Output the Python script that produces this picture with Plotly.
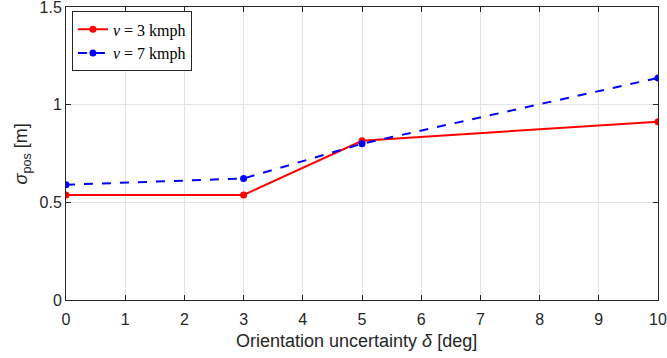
import plotly.graph_objects as go

delta = [0, 3, 5, 10]
sigma_3kmph = [0.537, 0.538, 0.815, 0.913]
sigma_7kmph = [0.590, 0.622, 0.800, 1.137]
x_ticks = list(range(0, 11))
y_ticks = [0, 0.5, 1, 1.5]
y_tick_labels = ["0", "0.5", "1", "1.5"]

SANS = "Liberation Sans, Arial, sans-serif"
INK = "#262626"

fig = go.Figure()
fig.add_trace(go.Scatter(
    x=delta, y=sigma_3kmph, mode="lines+markers",
    name="<i>v</i> = 3 kmph",
    line=dict(color="#ff0000", width=2, dash="solid"),
    marker=dict(color="#ff0000", size=7),
))
fig.add_trace(go.Scatter(
    x=delta, y=sigma_7kmph, mode="lines+markers",
    name="<i>v</i> = 7 kmph",
    line=dict(color="#0000ff", width=2, dash="dash"),
    marker=dict(color="#0000ff", size=7),
))

axis_common = dict(
    showgrid=True, gridcolor="#e3e3e3", gridwidth=1,
    showline=True, linecolor=INK, linewidth=1, mirror="ticks",
    ticks="inside", ticklen=5, tickcolor=INK,
    zeroline=False, automargin=False,
    ticklabeloverflow="allow",
    tickfont=dict(family=SANS, size=16, color=INK),
)

fig.update_xaxes(range=[0, 10], tickvals=x_ticks, ticklabelstandoff=5, **axis_common)
fig.update_yaxes(range=[0, 1.5], tickvals=y_ticks, ticktext=y_tick_labels, **axis_common)

fig.add_annotation(
    text="Orientation uncertainty <i>δ</i> [deg]",
    xref="paper", yref="paper", x=0.49, y=-0.1, xanchor="center", yanchor="top",
    showarrow=False, font=dict(family=SANS, size=18, color=INK),
)
fig.add_annotation(
    text="<i>σ</i><sub>pos</sub> [m]",
    xref="paper", yref="paper", x=-0.05, y=0.5, xanchor="right", yanchor="middle",
    textangle=-90, showarrow=False, font=dict(family=SANS, size=18, color=INK),
)

fig.update_layout(
    width=667, height=358,
    margin=dict(l=66, r=9, t=7, b=58),
    plot_bgcolor="white", paper_bgcolor="white",
    showlegend=True,
    legend=dict(
        x=0.01, y=0.985, xanchor="left", yanchor="top",
        bgcolor="white", bordercolor=INK, borderwidth=1,
        font=dict(family="Liberation Serif, DejaVu Serif, serif", size=16, color="black"),
        tracegroupgap=0, itemwidth=30,
    ),
)

fig.write_html("out.html", config={"displayModeBar": False},
               post_script="document.body.style.margin='0px';")
